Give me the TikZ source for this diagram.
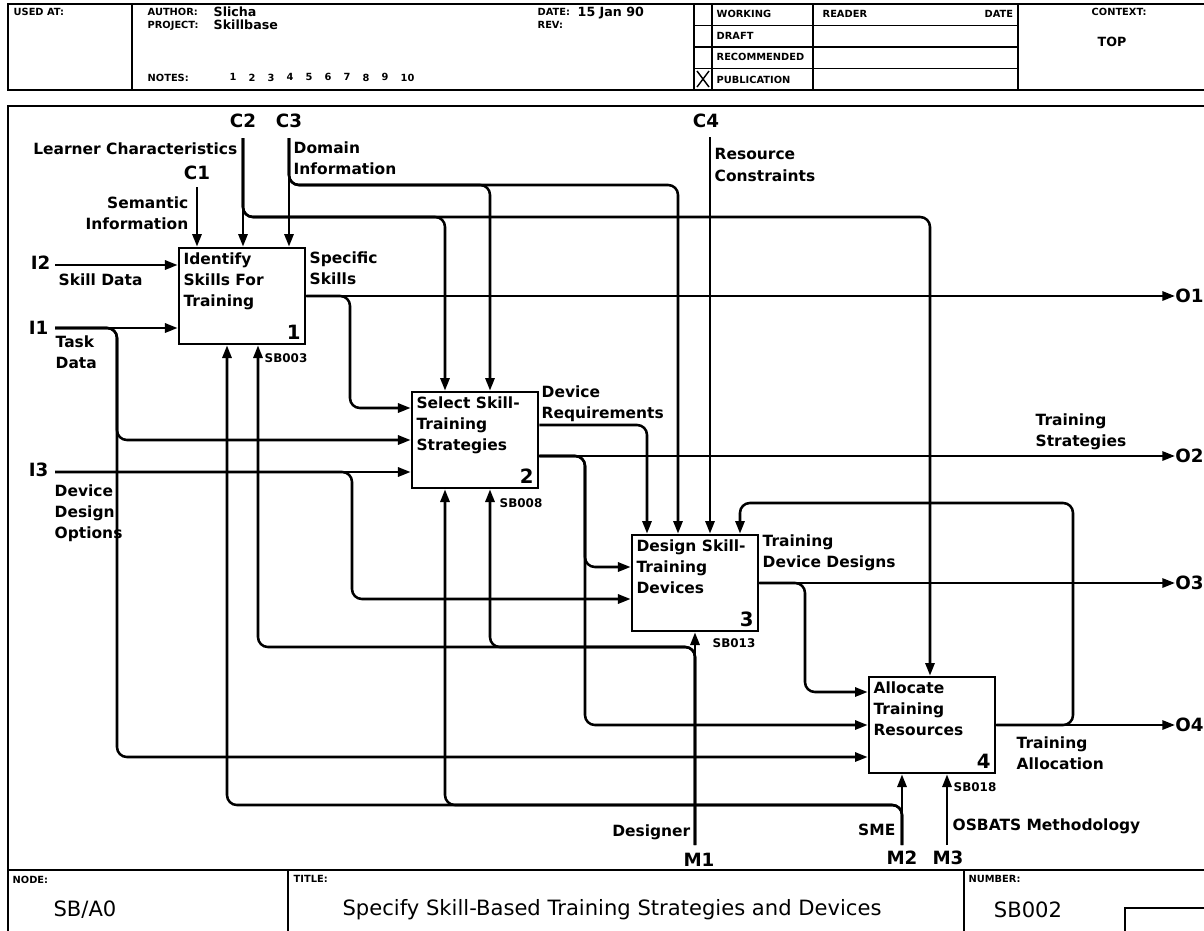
\documentclass[tikz,border=0pt]{standalone}
\usepackage{fontspec}
\setmainfont{DejaVu Sans}
\usetikzlibrary{arrows.meta}
\begin{document}
\begin{tikzpicture}[
    x=0.025cm, y=-0.025cm,
    font=\fontsize{11}{15}\selectfont\bfseries,
    box/.style={
        draw=black, line width=1.9pt, fill=white,
        minimum width=3.15cm, minimum height=2.4cm, inner sep=0pt
    },
    boxtxt/.style={anchor=north west, align=left, inner sep=4pt},
    boxnum/.style={anchor=south east, inner sep=4pt,
        font=\fontsize{14}{14}\selectfont\bfseries},
    flow/.style={draw=black, line width=1.8pt, rounded corners=7pt,
        -{Triangle[length=9pt,width=6.5pt]}},
    frame/.style={draw=black, line width=1.7pt},
    rule/.style={draw=black, line width=1pt},
    lbl/.style={inner sep=1pt, align=left},
    icom/.style={inner sep=1pt, font=\fontsize{13}{13}\selectfont\bfseries},
    ref/.style={inner sep=1pt, font=\fontsize{8.5}{9}\selectfont\bfseries},
    hdr/.style={inner sep=1pt, anchor=north west,
        font=\fontsize{7}{8}\selectfont\bfseries},
    hdrval/.style={inner sep=1pt, anchor=north west,
        font=\fontsize{9}{10}\selectfont\bfseries},
    ttl/.style={inner sep=1pt, font=\fontsize{15}{15}\selectfont}
]
\useasboundingbox (0,0) rectangle (1204,930);

%% ── Hlavička formulára ──────────────────────────────────────────
\draw[frame] (1215,4) -- (8,4) -- (8,90) -- (1215,90);
\draw[frame] (132,4) -- (132,90);
\draw[frame] (694,4) -- (694,90);
\draw[rule]  (712,4) -- (712,90);
\draw[frame] (813,4) -- (813,90);
\draw[frame] (1018,4) -- (1018,90);
\foreach \r in {25.5,47,68.5}
    \draw[rule] (694,\r) -- (1018,\r);
\draw[rule] (697,71) -- (709,87);
\draw[rule] (709,71) -- (697,87);

\node[hdr] (usedat) at (12,7) {USED AT:};
\node[hdr] (author) at (146,7) {AUTHOR:};
\node[hdrval] (authorv) at (212,5) {Slicha};
\node[hdr] (project) at (146,20) {PROJECT:};
\node[hdrval] (projectv) at (212,18) {Skillbase};
\node[hdr] (notes) at (146,72) {NOTES:};
\foreach \n in {1,...,10}
    \node[hdr] (note\n) at (209+19*\n,72) {\n};
\node[hdr] (date) at (536,7) {DATE:};
\node[hdrval] (datev) at (576,5) {15 Jan 90};
\node[hdr] (rev) at (536,20) {REV:};
\node[hdr] (working) at (715,9) {WORKING};
\node[hdr] (draft) at (715,31) {DRAFT};
\node[hdr] (recomm) at (715,52) {RECOMMENDED};
\node[hdr] (public) at (715,74) {PUBLICATION};
\node[hdr] (reader) at (821,9) {READER};
\node[hdr] (rdate) at (983,9) {DATE};
\node[hdr] (context) at (1090,7) {CONTEXT:};
\node[hdrval, anchor=west] (top) at (1096,42) {TOP};

%% ── Rám diagramu a rohová pečiatka ──────────────────────────────
\draw[frame] (1215,106) -- (8,106) -- (8,935);
\draw[frame] (8,870) -- (1215,870);
\draw[frame] (288,870) -- (288,935);
\draw[frame] (964,870) -- (964,935);
\draw[frame] (1125,935) -- (1125,908) -- (1215,908);
\node[hdr] (nodel) at (11,874) {NODE:};
\node[ttl] (nodev) at (85,910) {SB/A0};
\node[hdr] (titlel) at (292,874) {TITLE:};
\node[ttl] (titlev) at (612,910)
    {Specify Skill-Based Training Strategies and Devices};
\node[hdr] (numl) at (967,874) {NUMBER:};
\node[ttl] (numv) at (1028,910) {SB002};

%% ── Činnosti ────────────────────────────────────────────────────
\node[box] (b1) at (242,296) {};
\node[box] (b2) at (475,440) {};
\node[box] (b3) at (695,583) {};
\node[box] (b4) at (932,725) {};
\node[boxtxt] (b1t) at (b1.north west) {Identify\\Skills For\\Training};
\node[boxtxt] (b2t) at (b2.north west) {Select Skill-\\Training\\Strategies};
\node[boxtxt] (b3t) at (b3.north west) {Design Skill-\\Training\\Devices};
\node[boxtxt] (b4t) at (b4.north west) {Allocate\\Training\\Resources};
\node[boxnum] (b1n) at (b1.south east) {1};
\node[boxnum] (b2n) at (b2.south east) {2};
\node[boxnum] (b3n) at (b3.south east) {3};
\node[boxnum] (b4n) at (b4.south east) {4};

%% ── Voľné konce šípok ───────────────────────────────────────────
\coordinate (c1) at (197,187);
\coordinate (c2) at (243,138);
\coordinate (c3) at (289,138);
\coordinate (c4) at (710,137);
\coordinate (i2) at (55,265);
\coordinate (i1) at (55,328);
\coordinate (i3) at (55,472);
\coordinate (o1) at (1175,296);
\coordinate (o2) at (1175,456);
\coordinate (o3) at (1175,583);
\coordinate (o4) at (1175,725);
\coordinate (m1) at (695,845);
\coordinate (m2) at (902,845);
\coordinate (m3) at (947,845);

%% ── Body ohybov ─────────────────────────────────────────────────
\coordinate (lcB) at (445,217);
\coordinate (lcD) at (930,217);
\coordinate (diB) at (490,185);
\coordinate (diC) at (678,185);
\coordinate (ssB) at (350,408);
\coordinate (tdB) at (117,440);
\coordinate (tdD) at (117,757);
\coordinate (ddC) at (352,599);
\coordinate (drC) at (647,425);
\coordinate (tsC) at (585,567);
\coordinate (tsD) at (585,725);
\coordinate (tvD) at (805,692);
\coordinate (taL) at (1073,503);
\coordinate (taC) at (740,503);
\coordinate (dsA) at (258,647);
\coordinate (dsB) at (490,647);
\coordinate (smA) at (227,805);
\coordinate (smB) at (445,805);

%% ── Riadenie (C) ────────────────────────────────────────────────
\draw[flow] (c1) -- (c1 |- b1.north);
\draw[flow] (c2) -- (c2 |- b1.north);
\draw[flow] (c3) -- (c3 |- b1.north);
\draw[flow] (c2) |- (lcB) -- (lcB |- b2.north);
\draw[flow] (c2) |- (lcD) -- (lcD |- b4.north);
\draw[flow] (c3) |- (diB) -- (diB |- b2.north);
\draw[flow] (c3) |- (diC) -- (diC |- b3.north);
\draw[flow] (c4) -- (c4 |- b3.north);

%% ── Vstupy (I) ──────────────────────────────────────────────────
\draw[flow] (i2) -- (i2 -| b1.west);
\draw[flow] (i1) -- (i1 -| b1.west);
\draw[flow] (i1) -| (tdB) -- (tdB -| b2.west);
\draw[flow] (i1) -| (tdD) -- (tdD -| b4.west);
\draw[flow] (i3) -- (i3 -| b2.west);
\draw[flow] (i3) -| (ddC) -- (ddC -| b3.west);

%% ── Výstupy (O) ─────────────────────────────────────────────────
\draw[flow] (b1.east) -- (o1);
\draw[flow] (b1.east) -| (ssB) -- (ssB -| b2.west);
\draw[flow] (b2.east |- drC) -- (drC) -- (drC |- b3.north);
\draw[flow] (b2.east |- o2) -- (o2);
\draw[flow] (b2.east |- o2) -| (tsC) -- (tsC -| b3.west);
\draw[flow] (b2.east |- o2) -| (tsD) -- (tsD -| b4.west);
\draw[flow] (b3.east) -- (o3);
\draw[flow] (b3.east) -| (tvD) -- (tvD -| b4.west);
\draw[flow] (b4.east) -- (o4);
\draw[flow] (b4.east) -| (taL) -- (taC) -- (taC |- b3.north);

%% ── Mechanizmy (M) ──────────────────────────────────────────────
\draw[flow] (m1) -- (m1 |- b3.south);
\draw[flow] (m1) |- (dsB) -- (dsB |- b2.south);
\draw[flow] (m1) |- (dsA) -- (dsA |- b1.south);
\draw[flow] (m2) -- (m2 |- b4.south);
\draw[flow] (m2) |- (smB) -- (smB |- b2.south);
\draw[flow] (m2) |- (smA) -- (smA |- b1.south);
\draw[flow] (m3) -- (m3 |- b4.south);

%% ── ICOM kódy ───────────────────────────────────────────────────
\node[icom] (c1l) at (197,173) {C1};
\node[icom] (c2l) at (243,121) {C2};
\node[icom] (c3l) at (289,121) {C3};
\node[icom] (c4l) at (706,121) {C4};
\node[icom, anchor=east] (i2l) at (52,263) {I2};
\node[icom, anchor=east] (i1l) at (50,328) {I1};
\node[icom, anchor=east] (i3l) at (50,470) {I3};
\node[icom, anchor=west, inner sep=0pt] (o1l) at (o1) {O1};
\node[icom, anchor=west, inner sep=0pt] (o2l) at (o2) {O2};
\node[icom, anchor=west, inner sep=0pt] (o3l) at (o3) {O3};
\node[icom, anchor=west, inner sep=0pt] (o4l) at (o4) {O4};
\node[icom] (m1l) at (699,860) {M1};
\node[icom] (m2l) at (902,858) {M2};
\node[icom] (m3l) at (948,858) {M3};

%% ── Popisy šípok ────────────────────────────────────────────────
\node[lbl, anchor=east] (lcl) at (239,149) {Learner Characteristics};
\node[lbl, anchor=north west] (dil) at (292,140) {Domain\\Information};
\node[lbl, anchor=north east, align=right] (sil) at (190,195)
    {Semantic\\Information};
\node[lbl, anchor=north west] (rcl) at (713,147) {Resource\\Constraints};
\node[lbl, anchor=north west] (ssl) at (308,250) {Specific\\Skills};
\node[lbl, anchor=north west] (sdl) at (57,272) {Skill Data};
\node[lbl, anchor=north west] (tdl) at (54,334) {Task\\Data};
\node[lbl, anchor=north west] (ddl) at (53,483) {Device\\Design\\Options};
\node[lbl, anchor=north west] (drl) at (540,384) {Device\\Requirements};
\node[lbl, anchor=north west] (tsl) at (1034,412) {Training\\Strategies};
\node[lbl, anchor=north west] (tvl) at (761,533) {Training\\Device Designs};
\node[lbl, anchor=north west] (tal) at (1015,735) {Training\\Allocation};
\node[lbl, anchor=east] (dgl) at (692,832) {Designer};
\node[lbl, anchor=east] (sml) at (897,830) {SME};
\node[lbl, anchor=west] (osl) at (951,826) {OSBATS Methodology};

%% ── Odkazy na podrobné diagramy ─────────────────────────────────
\node[ref, anchor=west] (r1) at (263,358) {SB003};
\node[ref, anchor=west] (r2) at (498,503) {SB008};
\node[ref, anchor=west] (r3) at (711,643) {SB013};
\node[ref, anchor=west] (r4) at (952,787) {SB018};

\end{tikzpicture}
\end{document}
